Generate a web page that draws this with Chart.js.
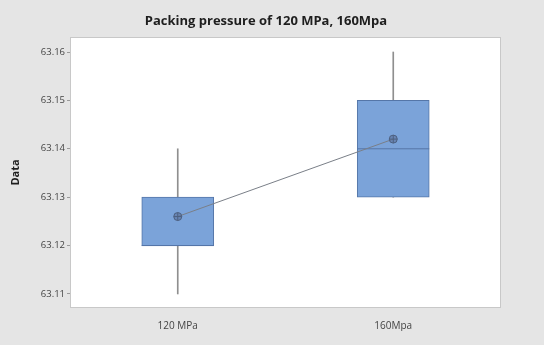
<!DOCTYPE html>
<html lang="en">
<head>
  <meta charset="UTF-8" />
  <title>Packing pressure boxplot</title>
  <script src="https://cdn.jsdelivr.net/npm/chart.js"></script>
  <style>
    html, body { margin: 0; padding: 0; background: #e5e5e5; }
    #wrap { width: 544px; height: 345px; }
  </style>
</head>
<body>
  <div id="wrap"><canvas id="box"></canvas></div>

  <script>
    // values
    const categories = ['120 MPa', '160Mpa'];
    const whiskerLow = [63.11, 63.13];
    const whiskerHigh = [63.14, 63.16];
    const q1 = [63.12, 63.13];
    const q3 = [63.13, 63.15];
    const medians = [63.12, 63.14];
    const means = [63.126, 63.142];
    const yTicks = [63.11, 63.12, 63.13, 63.14, 63.15, 63.16];

    const boxFill = '#7ba3d9';
    const boxLine = '#5576a8';

    // grey page, white plot area with frame
    const frame = {
      id: 'frame',
      beforeDraw(chart) {
        const { ctx, chartArea: a } = chart;
        ctx.save();
        ctx.fillStyle = '#e5e5e5';
        ctx.fillRect(0, 0, chart.width, chart.height);
        ctx.fillStyle = '#ffffff';
        ctx.fillRect(a.left, a.top, a.right - a.left, a.bottom - a.top);
        ctx.strokeStyle = '#c8c8c8';
        ctx.lineWidth = 1;
        ctx.strokeRect(a.left + 0.5, a.top + 0.5, a.right - a.left - 1, a.bottom - a.top - 1);
        ctx.restore();
      }
    };

    new Chart(document.getElementById('box'), {
      type: 'bar',
      data: {
        labels: categories,
        datasets: [
          {
            label: 'Whisker',
            data: whiskerLow.map((v, i) => [v, whiskerHigh[i]]),
            backgroundColor: '#8f8f8f',
            borderWidth: 0,
            barThickness: 1,
            grouped: false,
            order: 4
          },
          {
            label: 'IQR box',
            data: q1.map((v, i) => [v, q3[i]]),
            backgroundColor: boxFill,
            borderColor: boxLine,
            borderWidth: 1,
            borderSkipped: false,
            barThickness: 72,
            grouped: false,
            order: 3
          },
          {
            type: 'line',
            label: 'Median',
            data: medians,
            showLine: false,
            pointStyle: 'line',
            pointRadius: 36,
            pointHoverRadius: 36,
            borderColor: boxLine,
            borderWidth: 1,
            order: 2
          },
          {
            type: 'line',
            label: 'Mean',
            data: means,
            borderColor: '#7a7f88',
            borderWidth: 1,
            pointStyle: 'circle',
            pointRadius: 4,
            pointBorderColor: '#4d6080',
            pointBackgroundColor: 'rgba(90,110,150,0.55)',
            pointBorderWidth: 1,
            order: 1
          },
          {
            type: 'line',
            label: 'Mean cross',
            data: means,
            showLine: false,
            pointStyle: 'cross',
            pointRadius: 4,
            pointBorderColor: '#4d6080',
            pointBorderWidth: 1,
            order: 0
          }
        ]
      },
      options: {
        responsive: true,
        maintainAspectRatio: false,
        animation: false,
        layout: { padding: { left: 6, right: 18, top: 0, bottom: 0 } },
        plugins: {
          legend: { display: false },
          tooltip: { enabled: false },
          title: {
            display: true,
            text: 'Packing pressure of 120 MPa, 160Mpa',
            color: '#1e1e1e',
            font: { family: 'Open Sans', size: 13, weight: 'bold' },
            padding: { top: 7, bottom: 8.4 }
          }
        },
        scales: {
          x: {
            offset: true,
            grid: { display: false },
            border: { display: false },
            ticks: { color: '#444', font: { family: 'Open Sans', size: 10 }, padding: 4 },
            afterFit(s) { s.height = 23; }
          },
          y: {
            min: 63.1071,
            max: 63.1631,
            afterBuildTicks(s) { s.ticks = yTicks.map(v => ({ value: v })); },
            grid: { display: true, drawOnChartArea: false, drawTicks: true, tickLength: 3, color: '#9a9a9a' },
            border: { display: false },
            ticks: {
              color: '#444',
              font: { family: 'Open Sans', size: 9.5 },
              padding: 2,
              callback: v => v.toFixed(2)
            },
            title: {
              display: true,
              text: 'Data',
              color: '#1e1e1e',
              font: { family: 'Open Sans', size: 11, weight: 'bold' },
              padding: { top: 3, bottom: 0 }
            },
            afterFit(s) { s.width = 64; }
          },
          // empty right-hand axis, only keeps the grey margin on the right
          yRight: {
            position: 'right',
            display: true,
            min: 63.1071,
            max: 63.1631,
            grid: { display: false },
            border: { display: false },
            ticks: { display: false },
            afterFit(s) { s.width = 25; }
          }
        }
      },
      plugins: [frame]
    });
  </script>
</body>
</html>
